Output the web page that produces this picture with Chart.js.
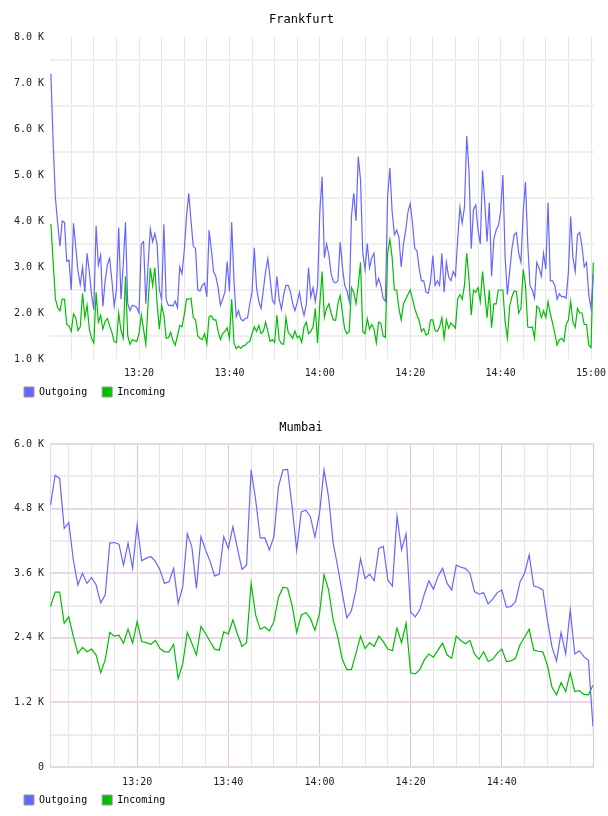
<!DOCTYPE html>
<html>
<head>
<meta charset="utf-8">
<script src="https://cdn.jsdelivr.net/npm/chart.js@4/dist/chart.umd.min.js"></script>
<style>
  html, body { margin: 0; padding: 0; background: #fff; }
  canvas { display: block; }
</style>
</head>
<body>
<canvas id="frankfurt" width="608" height="408"></canvas>
<canvas id="mumbai" width="608" height="408"></canvas>
<script>
// time is in minutes after 13:00
// Frankfurt: one sample every 30 s, from 13:00:30 to 15:00:30 (values in K)
var frankfurtStart = 0.5;
var frankfurtStep = 0.5;
var frankfurtOut = [
  7.2, 5.7, 4.5, 3.95, 3.45, 4.0, 3.97, 3.12, 3.15, 2.5,
  3.95, 3.44, 2.9, 2.62, 3.0, 2.45, 3.3, 2.9, 2.4, 2.07,
  3.89, 3.04, 3.26, 2.14, 2.7, 3.05, 3.19, 2.7, 2.15, 2.5,
  3.86, 2.3, 3.04, 3.97, 2.2, 2.05, 2.17, 2.15, 2.12, 2.0,
  3.5, 3.55, 2.2, 3.04, 3.83, 3.55, 3.73, 3.5, 2.5, 2.3,
  3.93, 2.3, 2.16, 2.17, 2.15, 2.26, 2.12, 3.0, 2.85, 3.35,
  4.09, 4.6, 4.0, 3.45, 3.4, 2.5, 2.48, 2.6, 2.65, 2.35,
  3.8, 3.37, 2.9, 2.79, 2.55, 2.17, 2.3, 2.46, 3.12, 2.47,
  3.97, 2.7, 1.92, 2.05, 1.87, 1.83, 1.88, 1.89, 2.2, 2.46,
  3.42, 2.55, 2.25, 2.1, 2.5, 2.9, 3.18, 2.75, 2.28, 2.2,
  2.8, 2.3, 2.08, 2.4, 2.6, 2.6, 2.46, 2.2, 2.05, 2.23,
  2.45, 2.15, 1.95, 2.18, 2.99, 2.35, 2.55, 2.25, 2.6, 4.2,
  4.96, 3.2, 3.5, 3.26, 2.85, 2.68, 2.65, 2.7, 3.54, 3.0,
  2.6, 2.48, 2.25, 4.1, 4.6, 4.0, 5.4, 4.9, 3.3, 2.95,
  3.51, 2.98, 3.2, 3.3, 2.6, 2.75, 2.6, 2.32, 2.25, 4.55,
  5.15, 4.2, 3.7, 3.8, 3.65, 3.0, 3.5, 3.8, 4.2, 4.38,
  3.95, 3.4, 3.35, 2.95, 2.7, 2.7, 2.45, 2.43, 2.7, 3.25,
  2.6, 2.7, 2.6, 3.3, 2.45, 3.1, 2.78, 2.7, 2.9, 2.8,
  3.6, 4.3, 3.95, 4.3, 5.85, 5.1, 3.4, 4.25, 4.35, 3.8,
  3.5, 5.1, 4.4, 3.55, 4.4, 2.8, 3.6, 3.8, 3.9, 4.2,
  5.0, 3.2, 2.4, 2.9, 3.4, 3.7, 3.75, 3.3, 3.1, 4.2,
  4.85, 3.5, 2.6, 2.5, 2.32, 3.1, 2.98, 2.8, 3.3, 2.95,
  4.4, 2.7, 2.7, 2.6, 2.3, 2.42, 2.35, 2.36, 2.32, 2.9,
  4.1, 3.2, 2.9, 3.7, 3.75, 3.45, 3.0, 3.1, 2.4, 2.1,
  2.85
];
var frankfurtIn = [
  3.94, 3.1, 2.3, 2.12, 2.05, 2.3, 2.3, 1.75, 1.72, 1.6,
  1.98, 1.9, 1.62, 1.7, 2.43, 1.9, 2.17, 1.65, 1.45, 1.35,
  2.45, 1.8, 1.95, 1.65, 1.82, 1.88, 1.72, 1.58, 1.38, 1.36,
  2.0, 1.62, 1.45, 2.8, 1.5, 1.32, 1.42, 1.4, 1.38, 1.55,
  1.96, 1.65, 1.32, 2.2, 2.98, 2.6, 2.99, 2.2, 1.65, 2.17,
  1.95, 1.45, 1.46, 1.58, 1.4, 1.3, 1.5, 1.73, 1.7, 1.96,
  2.3, 2.3, 2.32, 1.9, 1.85, 1.5, 1.45, 1.42, 1.55, 1.33,
  1.92, 1.94, 1.85, 1.85, 1.6, 1.42, 1.55, 1.6, 1.68, 1.45,
  2.3, 1.35, 1.22, 1.28, 1.23, 1.28, 1.3, 1.36, 1.38, 1.55,
  1.7, 1.6, 1.73, 1.55, 1.6, 1.8, 1.6, 1.38, 1.42, 1.36,
  1.95, 1.42, 1.33, 1.32, 1.9, 1.58, 1.52, 1.45, 1.61, 1.46,
  1.5, 1.36, 1.7, 1.8, 1.55, 1.6, 1.7, 2.1, 1.35, 2.2,
  2.9, 1.9, 2.1, 2.2, 2.0, 1.85, 1.84, 2.2, 2.38, 2.0,
  1.65, 1.55, 1.6, 2.55, 2.45, 2.2, 2.6, 3.1, 1.6, 1.55,
  1.88, 1.65, 1.75, 1.65, 1.35, 1.8, 1.78, 1.5, 1.47, 3.3,
  3.6, 3.2, 2.5, 2.5, 2.1, 1.85, 2.2, 2.3, 2.4, 2.5,
  2.3, 2.1, 1.95, 1.82, 1.6, 1.66, 1.52, 1.55, 1.85, 1.85,
  1.62, 1.6, 1.7, 1.9, 1.45, 1.85, 1.67, 1.78, 1.73, 1.67,
  2.3, 2.4, 2.3, 2.6, 3.3, 2.75, 1.95, 2.5, 2.45, 2.55,
  2.25, 2.9, 2.4, 1.9, 2.5, 1.68, 2.2, 2.2, 2.5, 2.5,
  2.5, 1.8, 1.45, 2.15, 2.35, 2.48, 2.47, 2.0, 2.1, 2.95,
  2.6, 1.7, 1.68, 1.7, 1.45, 2.15, 2.1, 1.9, 2.05, 1.9,
  2.25, 1.98, 1.78, 1.55, 1.3, 1.42, 1.45, 1.38, 1.75, 1.85,
  2.25, 1.8, 1.69, 2.1, 2.0, 2.0, 1.75, 1.75, 1.3, 1.25,
  3.1
];

// Mumbai: one sample a minute, 13:01 to 15:00
var mumbaiStart = 1;
var mumbaiStep = 1;
var mumbaiOut = [
  4.87, 5.42, 5.36, 4.43, 4.54, 3.85, 3.38, 3.6, 3.41, 3.52,
  3.38, 3.05, 3.2, 4.16, 4.17, 4.14, 3.75, 4.16, 3.69, 4.5,
  3.83, 3.88, 3.91, 3.82, 3.66, 3.41, 3.44, 3.69, 3.04, 3.35,
  4.33, 4.09, 3.32, 4.28, 4.03, 3.82, 3.55, 3.58, 4.28, 4.06,
  4.46, 4.06, 3.67, 3.75, 5.52, 4.96, 4.25, 4.26, 4.03, 4.28,
  5.21, 5.52, 5.53, 4.83, 4.03, 4.74, 4.77, 4.65, 4.27, 4.71,
  5.52, 5.01, 4.16, 3.72, 3.23, 2.77, 2.9, 3.29, 3.87, 3.5,
  3.58, 3.46, 4.06, 4.1, 3.47, 3.36, 4.66, 4.04, 4.33, 2.88,
  2.79, 2.92, 3.21, 3.46, 3.3, 3.54, 3.69, 3.41, 3.29, 3.75,
  3.71, 3.69, 3.6, 3.26, 3.21, 3.24, 3.03, 3.12, 3.24, 3.29,
  2.97, 2.98, 3.07, 3.44, 3.6, 3.94, 3.36, 3.34, 3.29, 2.73,
  2.23, 1.97, 2.5, 2.1, 2.92, 2.1, 2.16, 2.05, 1.98, 0.75
];
var mumbaiIn = [
  2.98, 3.25, 3.25, 2.67, 2.79, 2.42, 2.11, 2.22, 2.14, 2.19,
  2.08, 1.75, 1.99, 2.5, 2.43, 2.45, 2.3, 2.56, 2.3, 2.7,
  2.33, 2.31, 2.28, 2.35, 2.2, 2.14, 2.14, 2.28, 1.64, 1.92,
  2.5, 2.3, 2.08, 2.61, 2.48, 2.33, 2.19, 2.17, 2.51, 2.47,
  2.73, 2.47, 2.24, 2.31, 3.41, 2.82, 2.56, 2.6, 2.53, 2.7,
  3.15, 3.34, 3.32, 3.0, 2.5, 2.82, 2.87, 2.76, 2.54, 2.85,
  3.57, 3.29, 2.73, 2.42, 2.0, 1.81, 1.81, 2.11, 2.43, 2.2,
  2.31, 2.24, 2.43, 2.33, 2.19, 2.16, 2.58, 2.31, 2.67, 1.75,
  1.73, 1.81, 1.99, 2.1, 2.04, 2.17, 2.3, 2.08, 2.02, 2.43,
  2.35, 2.29, 2.35, 2.1, 2.0, 2.14, 1.96, 2.0, 2.11, 2.19,
  1.96, 1.97, 2.02, 2.27, 2.41, 2.56, 2.17, 2.15, 2.14, 1.89,
  1.48, 1.34, 1.57, 1.4, 1.75, 1.4, 1.42, 1.35, 1.34, 1.52
];

// ticks
var timeTicks = [5, 10, 15, 20, 25, 30, 35, 40, 45, 50, 55, 60, 65, 70, 75, 80, 85, 90, 95, 100, 105, 110, 115, 120];
var frankfurtYTicks = [1, 1.5, 2, 2.5, 3, 3.5, 4, 4.5, 5, 5.5, 6, 6.5, 7, 7.5, 8];
var mumbaiYTicks = [0, 0.6, 1.2, 1.8, 2.4, 3.0, 3.6, 4.2, 4.8, 5.4, 6.0];

var BLUE = 'rgb(102,102,255)';
var GREEN = 'rgb(0,190,0)';
var GREY = '#e6e6e6';
var PINK = '#dcc4dc';
var PINK_LIGHT = '#e9d6e9';
var FONT = 'DejaVu Sans Mono';

function points(start, step, vals) {
  return vals.map(function(v, i) { return { x: start + i * step, y: v }; });
}

function hhmm(m) {
  var h = 13 + Math.floor(m / 60);
  var mm = m % 60;
  return h + ':' + (mm < 10 ? '0' : '') + mm;
}

function legendItems(chart) {
  return chart.data.datasets.map(function(ds, i) {
    return { text: ds.label, fillStyle: ds.borderColor, strokeStyle: '#999', lineWidth: 1, hidden: false, datasetIndex: i };
  });
}

// legend sits a little higher, tucked under the time labels
var liftLegend = {
  id: 'liftLegend',
  afterLayout: function(chart) {
    chart.legend.top -= 7;
    chart.legend.bottom -= 7;
  }
};

function makeChart(id, c) {
  return new Chart(document.getElementById(id), {
    type: 'line',
    data: {
      datasets: [
        { label: 'Outgoing', data: c.out, borderColor: BLUE, backgroundColor: BLUE, borderWidth: c.lw, pointRadius: 0, tension: 0 },
        { label: 'Incoming', data: c.inc, borderColor: GREEN, backgroundColor: GREEN, borderWidth: c.lw, pointRadius: 0, tension: 0 }
      ]
    },
    plugins: [liftLegend],
    options: {
      responsive: false,
      animation: false,
      events: [],
      layout: { padding: { left: 9, right: c.padRight, top: 0, bottom: 0 } },
      plugins: {
        title: { display: true, text: c.title, color: '#000', font: { family: FONT, size: 12, weight: 'normal' }, padding: { top: 13, bottom: c.titleBottom } },
        legend: {
          position: 'bottom', align: 'start', maxHeight: 29,
          labels: { boxWidth: 10, boxHeight: 10, padding: 15, color: '#000', font: { family: FONT, size: 10 }, generateLabels: legendItems }
        },
        tooltip: { enabled: false }
      },
      scales: {
        x: {
          type: 'linear', min: c.xMin, max: c.xMax,
          afterBuildTicks: function(s) { s.ticks = timeTicks.map(function(v) { return { value: v }; }); },
          afterFit: function(s) { s.height = 20; s.paddingLeft = 0; s.paddingRight = 0; },
          grid: { drawTicks: false, lineWidth: 1, color: c.xGrid },
          border: c.border,
          ticks: {
            autoSkip: false, maxRotation: 0, padding: c.xPad, color: '#222', font: { family: FONT, size: 10 },
            callback: function(v) { return (v % 20 === 0 && v <= c.lastLabel) ? hhmm(v) : ''; }
          }
        },
        y: {
          min: c.yTicks[0], max: c.yTicks[c.yTicks.length - 1],
          afterBuildTicks: function(s) { s.ticks = c.yTicks.map(function(v) { return { value: v }; }); },
          afterFit: function(s) { s.width = 41; s.paddingTop = 0; s.paddingBottom = 0; },
          grid: { drawTicks: false, lineWidth: 2, color: c.yGrid },
          border: c.border,
          ticks: { autoSkip: false, padding: 6, color: '#222', font: { family: FONT, size: 10 }, callback: c.yLabel }
        }
      }
    }
  });
}

makeChart('frankfurt', {
  title: 'Frankfurt', titleBottom: 9.6, padRight: 14, lw: 1.2, xPad: 8,
  out: points(frankfurtStart, frankfurtStep, frankfurtOut),
  inc: points(frankfurtStart, frankfurtStep, frankfurtIn),
  xMin: 0.3, xMax: 120.66, lastLabel: 120,
  yTicks: frankfurtYTicks,
  border: { display: false },
  xGrid: GREY,
  yGrid: function(ctx) { return ctx.tick && ctx.tick.value % 1 === 0 ? 'rgba(0,0,0,0)' : '#efefef'; },
  yLabel: function(v) { return v % 1 === 0 ? v.toFixed(1) + ' K' : ''; }
});

makeChart('mumbai', {
  title: 'Mumbai', titleBottom: 8.6, padRight: 15, lw: 1.2, xPad: 9,
  out: points(mumbaiStart, mumbaiStep, mumbaiOut),
  inc: points(mumbaiStart, mumbaiStep, mumbaiIn),
  xMin: 0.88, xMax: 120, lastLabel: 100,
  yTicks: mumbaiYTicks,
  border: { display: true, color: PINK_LIGHT, width: 1 },
  xGrid: function(ctx) { return ctx.tick && ctx.tick.value % 20 === 0 ? PINK : GREY; },
  yGrid: function(ctx) { return ctx.tick && Math.round(ctx.tick.value / 0.6) % 2 === 0 ? PINK_LIGHT : '#ececec'; },
  yLabel: function(v) {
    if (Math.round(v / 0.6) % 2 !== 0) return '';
    return v === 0 ? '0' : v.toFixed(1) + ' K';
  }
});
</script>
</body>
</html>
